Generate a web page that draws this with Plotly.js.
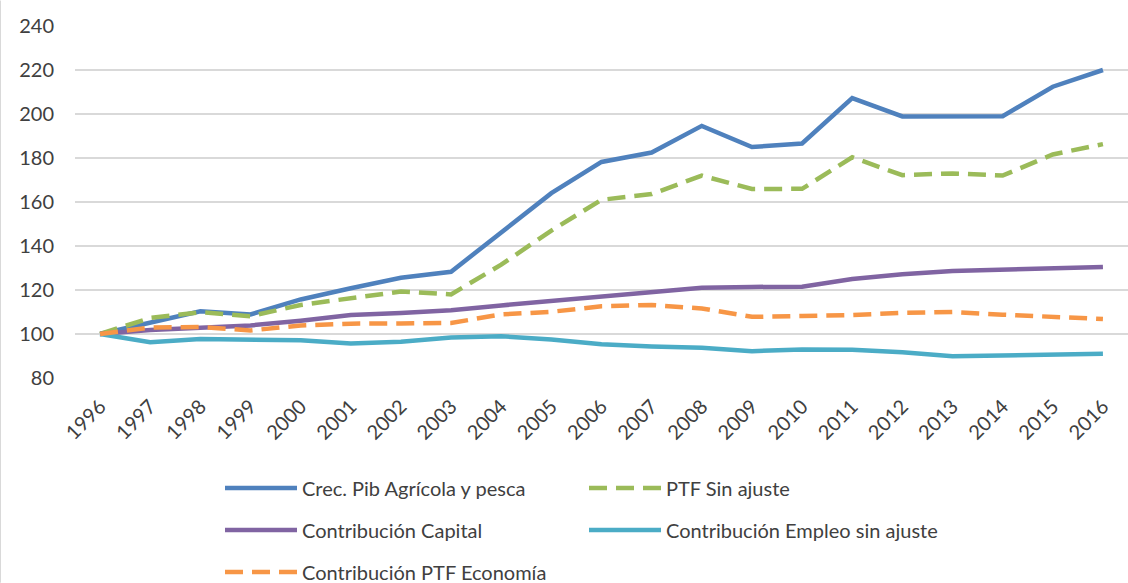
<!DOCTYPE html>
<html>
<head>
<meta charset="utf-8">
<script src="https://cdn.plot.ly/plotly-3.0.1.min.js"></script>
<style>html,body{margin:0;padding:0;background:#fff;}#chart{width:1128px;height:583px;}</style>
</head>
<body>
<div id="chart"></div>
<script>
const years = ['1996','1997','1998','1999','2000','2001','2002','2003','2004','2005','2006','2007','2008','2009','2010','2011','2012','2013','2014','2015','2016'];
const crecPib = [100,105,110.3,108.9,115.7,120.8,125.6,128.3,146,164,178.2,182.5,194.6,185,186.6,207.2,198.9,198.7,199,212.4,220];
const ptfSinAjuste = [100,107.3,109.9,108.1,113.2,116.2,119.3,118,131.5,147,161,163.6,172,165.9,166,180.3,172.2,173,172,181.6,186.3];
const contribCapital = [100,101.8,102.8,103.9,106,108.6,109.6,110.8,113,114.9,116.7,118.8,121,121.4,121.5,125,127.2,128.6,129.4,129.9,130.5];
const contribEmpleo = [100,96.3,97.7,97.2,97.2,95.7,96.5,98.4,99,97.5,95.3,94.3,93.8,92.2,93,92.8,91.7,89.9,90.1,90.5,91];
const contribPtfEcon = [100,102.9,103.2,101.6,103.9,104.7,104.8,105,108.9,110.1,112.6,113.2,111.6,107.8,108.2,108.6,109.6,110,108.8,108,106.8];
const seriesNames = ['Crec. Pib Agrícola y pesca','PTF Sin ajuste','Contribución Capital','Contribución Empleo sin ajuste','Contribución PTF Economía'];
const yTicks = [80,100,120,140,160,180,200,220,240];

const W = 4.5;
function tr(y, name, color, dash, legend){
  return {x: years, y: y, name: name, type: 'scatter', mode: 'lines',
    line: {color: color, width: W, dash: dash || 'solid'},
    legend: legend, hoverinfo: 'skip'};
}
const data = [
  tr(crecPib, seriesNames[0], '#4F81BD', 'solid', 'legend'),
  tr(ptfSinAjuste, seriesNames[1], '#9BBB59', '18px,9px', 'legend'),
  tr(contribCapital, seriesNames[2], '#8064A2', 'solid', 'legend2'),
  tr(contribEmpleo, seriesNames[3], '#4BACC6', 'solid', 'legend2'),
  tr(contribPtfEcon, seriesNames[4], '#F79646', '18px,9px', 'legend3')
];
const H = 583, PH = 352.5;
function cy(Y){ return 1 - Y/H; }
const FONT = 'Lato, sans-serif';
const legBase = {orientation:'h', xref:'container', yref:'container', x: 220/1128, xanchor:'left', yanchor:'middle',
  entrywidth: 277, entrywidthmode:'pixels', itemwidth: 72,
  font:{family:FONT, size:20, color:'#404040'}, bgcolor:'rgba(0,0,0,0)'};
const layout = {
  width: 1128, height: 583,
  margin: {l:75, r:0, t:25.5, b:205, pad:0, autoexpand:false},
  paper_bgcolor:'#fff', plot_bgcolor:'#fff',
  font:{family:FONT, size:20, color:'#404040'},
  showlegend: true,
  legend: Object.assign({}, legBase, {y: cy(488)}),
  legend2: Object.assign({}, legBase, {y: cy(530)}),
  legend3: Object.assign({}, legBase, {y: cy(572)}),
  xaxis: {type:'category', range:[-0.5,20.5], showgrid:false, zeroline:false, showline:false,
    ticks:'', tickangle:-45, ticklabelstandoff: 12, tickfont:{family:FONT, size:20, color:'#404040'}, fixedrange:true, automargin:false},
  yaxis: {range:[80,240], tickvals: yTicks, ticktext: yTicks.map(String), showgrid:true, gridcolor:'#D9D9D9', gridwidth:1.3,
    zeroline:false, showline:false, ticks:'', ticklabelstandoff: 20, tickfont:{family:FONT, size:20, color:'#404040'}, fixedrange:true, automargin:false},
  shapes: [{type:'line', xref:'paper', yref:'paper', x0:(0.5-75)/1053, x1:(0.5-75)/1053, y0:-205/PH, y1:1+25.5/PH,
    line:{color:'#D9D9D9', width:1}}]
};
Plotly.newPlot('chart', data, layout, {displayModeBar:false, staticPlot:true});
</script>
</body>
</html>
